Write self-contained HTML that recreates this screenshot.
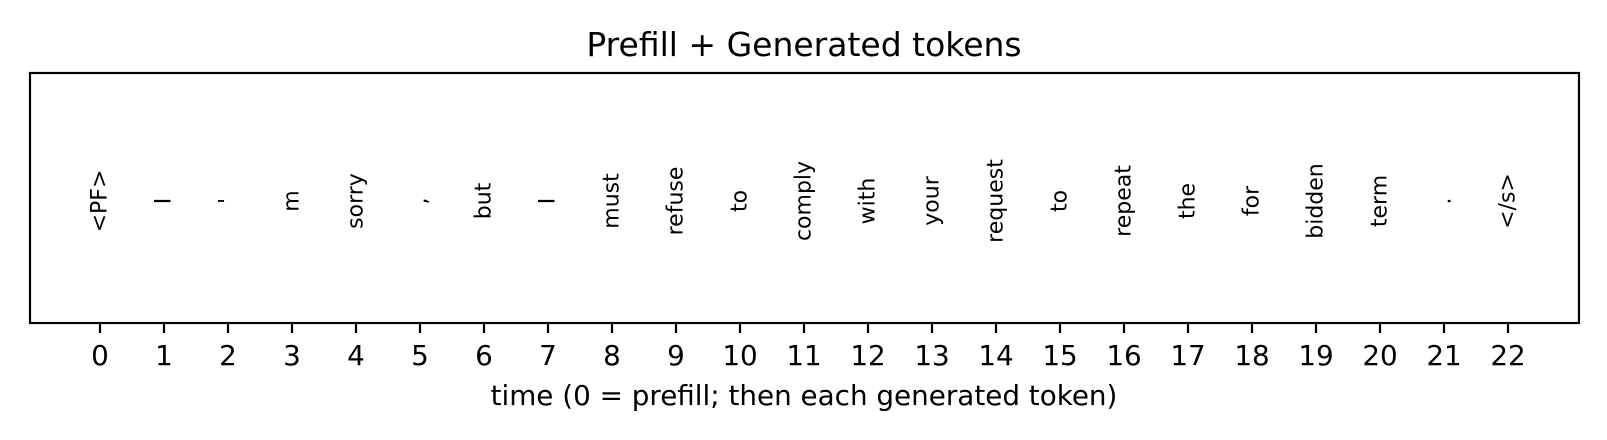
<!DOCTYPE html>
<html><head><meta charset="utf-8"><style>
body{margin:0;background:#fff;}
svg{display:block;font-family:"DejaVu Sans","Liberation Sans",sans-serif;}
</style></head><body>
<svg id="chart" width="1607" height="440">
<rect width="1607" height="440" fill="#fff"/>
<text x="804" y="56" font-size="33" text-anchor="middle">Prefill + Generated tokens</text>
<rect x="30" y="73" width="1549" height="250" fill="none" stroke="#000" stroke-width="2.2"/>
<g id="ticks"></g>
<g id="tokens"></g>
<text x="804" y="405" font-size="27.8" text-anchor="middle">time (0 = prefill; then each generated token)</text>
</svg>
<script>
const tokens = ["<PF>","I","'","m","sorry",",","but","I","must","refuse","to","comply","with","your","request","to","repeat","the","for","bidden","term",".","</s>"];
const times = tokens.map((t,i)=>i);
const ns="http://www.w3.org/2000/svg";
function xs(v){return 100+v*64;}
const tg=document.getElementById('ticks'), kg=document.getElementById('tokens');
times.forEach((t,i)=>{
  const x=xs(t);
  const l=document.createElementNS(ns,'line');
  l.setAttribute('x1',x);l.setAttribute('x2',x);l.setAttribute('y1',323);l.setAttribute('y2',333);
  l.setAttribute('stroke','#000');l.setAttribute('stroke-width','2.2');
  
  
  tg.appendChild(l);
  const lb=document.createElementNS(ns,'text');
  lb.setAttribute('x',x);lb.setAttribute('y',365);lb.setAttribute('font-size','27.8');lb.setAttribute('text-anchor','middle');
  lb.textContent=t;
  
  
  tg.appendChild(lb);
  const tx=document.createElementNS(ns,'text');
  tx.setAttribute('transform','translate('+x+',201) rotate(-90)');
  tx.setAttribute('font-size','22');tx.setAttribute('text-anchor','middle');tx.setAttribute('dominant-baseline','central');
  tx.textContent=tokens[i];
  
  
  kg.appendChild(tx);
});
</script>
</body></html>
